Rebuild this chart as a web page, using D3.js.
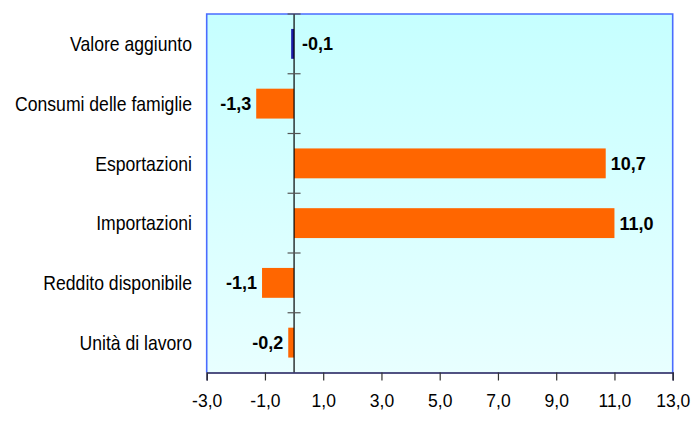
<!DOCTYPE html>
<html><head><meta charset="utf-8">
<script src="https://cdn.jsdelivr.net/npm/d3@7"></script>
<style>body{margin:0;background:#fff}svg{display:block}</style>
</head><body>
<svg id="c" width="693" height="421"></svg>
<script>
const categories = ["Valore aggiunto","Consumi delle famiglie","Esportazioni","Importazioni","Reddito disponibile","Unità di lavoro"];
const values = [-0.1,-1.3,10.7,11.0,-1.1,-0.2];
const barColors = ["#1c1ca8","#ff6600","#ff6600","#ff6600","#ff6600","#ff6600"];
const xTicks = [-3,-1,1,3,5,7,9,11,13];

const svg = d3.select("#c");
const m = {l:206.7, r:672.7, t:14, b:372.5};
const x = d3.scaleLinear().domain([-3,13]).range([m.l,m.r]);
const y = d3.scaleBand().domain(categories).range([m.t,m.b]).paddingInner(0.5).paddingOuter(0.25);
const fmt = v => d3.format(".1f")(v).replace(".",",").replace("−","-");

const defs = svg.append("defs");
const g = defs.append("linearGradient").attr("id","bg").attr("x1",0).attr("y1",0).attr("x2",0).attr("y2",1);
g.append("stop").attr("offset","0").attr("stop-color","#c6ffff");
g.append("stop").attr("offset","1").attr("stop-color","#e8ffff");

svg.append("rect").attr("x",m.l).attr("y",m.t).attr("width",m.r-m.l).attr("height",m.b-m.t).attr("fill","url(#bg)");
svg.append("path").attr("d",`M${m.l},${m.b}V${m.t}H${m.r}V${m.b}`).attr("fill","none").attr("stroke","#4a6cff").attr("stroke-width",1.6);

// bars
svg.selectAll("rect.bar").data(values).join("rect").attr("class","bar")
  .attr("x",d=>x(Math.min(0,d))).attr("width",d=>Math.abs(x(d)-x(0)))
  .attr("y",(d,i)=>y(categories[i])).attr("height",y.bandwidth())
  .attr("fill",(d,i)=>barColors[i]);

// y axis at zero
svg.append("line").attr("x1",x(0)).attr("x2",x(0)).attr("y1",m.t).attr("y2",m.b).attr("stroke","#000").attr("stroke-width",1.2);
const bounds = d3.range(categories.length+1).map(i=>m.t+i*(m.b-m.t)/categories.length);
svg.selectAll("line.yt").data(bounds.slice(0,-1)).join("line").attr("class","yt")
  .attr("x1",x(0)-6.5).attr("x2",x(0)+6.5).attr("y1",d=>d).attr("y2",d=>d)
  .attr("stroke","#555").attr("stroke-width",1.2);

// x axis
const xa = svg.append("g").attr("transform",`translate(0,${m.b})`)
  .call(d3.axisBottom(x).tickValues(xTicks).tickSize(8).tickPadding(14).tickFormat(fmt));
xa.select(".domain").attr("stroke","#1a1a5a").attr("stroke-width",1.6);
xa.selectAll(".tick line").attr("stroke","#333").attr("stroke-width",1.2);
xa.selectAll(".tick text").attr("font-family","Liberation Sans, Arial, sans-serif").attr("font-size",17.5).attr("fill","#000");

// category labels (horizontally condensed)
svg.selectAll("text.cat").data(categories).join("text").attr("class","cat")
  .attr("transform",d=>`translate(192,${y(d)+y.bandwidth()/2}) scale(0.88,1)`)
  .attr("dy","0.36em")
  .attr("text-anchor","end").attr("font-family","Liberation Sans, Arial, sans-serif")
  .attr("font-size",20).attr("fill","#000").text(d=>d);

// value labels
svg.selectAll("text.val").data(values).join("text").attr("class","val")
  .attr("x",d=> d<=-0.15 ? x(d)-5 : x(Math.max(d,0))+ (d<0?8:5))
  .attr("y",(d,i)=>y(categories[i])+y.bandwidth()/2).attr("dy","0.36em")
  .attr("text-anchor",d=>d<=-0.15?"end":"start")
  .attr("font-family","Liberation Sans, Arial, sans-serif").attr("font-weight","bold")
  .attr("font-size",18).attr("fill","#000").text(d=>fmt(d));
</script>
</body></html>
